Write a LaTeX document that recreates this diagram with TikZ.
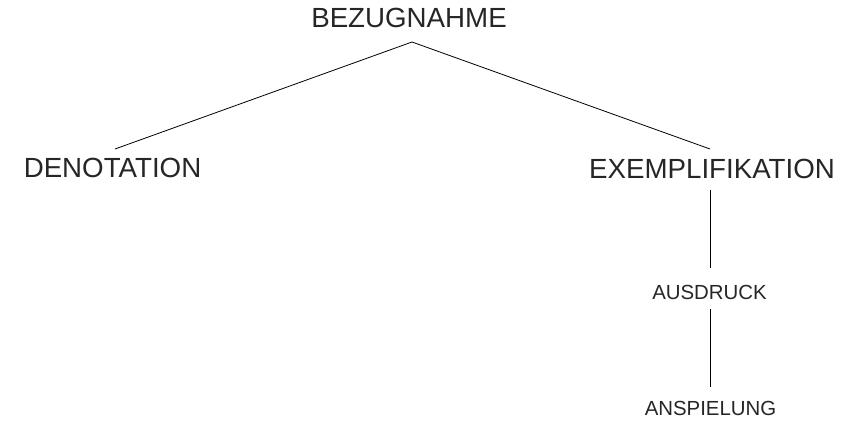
\documentclass[tikz,border=0pt]{standalone}
\usepackage{fontspec}
\setmainfont{Liberation Sans}
\begin{document}
\begin{tikzpicture}[x=1pt,y=-1pt,
  big/.style={anchor=base,inner sep=0pt,font=\fontsize{27.7}{30}\selectfont,text=black!85},
  small/.style={anchor=base,inner sep=0pt,font=\fontsize{20.4}{23}\selectfont,text=black!85},
  link/.style={draw=black,line width=0.8pt}]
  \useasboundingbox (0,0) rectangle (853,420);
  % concept nodes
  \node[big]   (bez)  at (409,28)    {BEZUGNAHME};
  \node[big]   (deno) at (112.5,177) {DENOTATION};
  \node[big]   (exem) at (712,178)   {EXEMPLIFIKATION};
  \node[small] (ausd) at (709.5,299) {AUSDRUCK};
  \node[small] (ansp) at (710.5,415) {ANSPIELUNG};
  % attachment points of the branches
  \coordinate (bezfoot)  at ([xshift=3pt,yshift=-14pt]bez.base);
  \coordinate (denohead) at ([xshift=2.5pt,yshift=28pt]deno.base);
  \coordinate (exemhead) at ([xshift=-2pt,yshift=29pt]exem.base);
  \coordinate (exemfoot) at ([xshift=-2pt,yshift=-12pt]exem.base);
  \coordinate (ausdhead) at ([xshift=0.5pt,yshift=31pt]ausd.base);
  \coordinate (ausdfoot) at ([xshift=0.5pt,yshift=-10pt]ausd.base);
  \coordinate (ansphead) at ([xshift=-0.5pt,yshift=28pt]ansp.base);
  % branches
  \draw[link] (denohead) -- (bezfoot) -- (exemhead);
  \draw[link] (exemfoot) -- (ausdhead);
  \draw[link] (ausdfoot) -- (ansphead);
\end{tikzpicture}
\end{document}
